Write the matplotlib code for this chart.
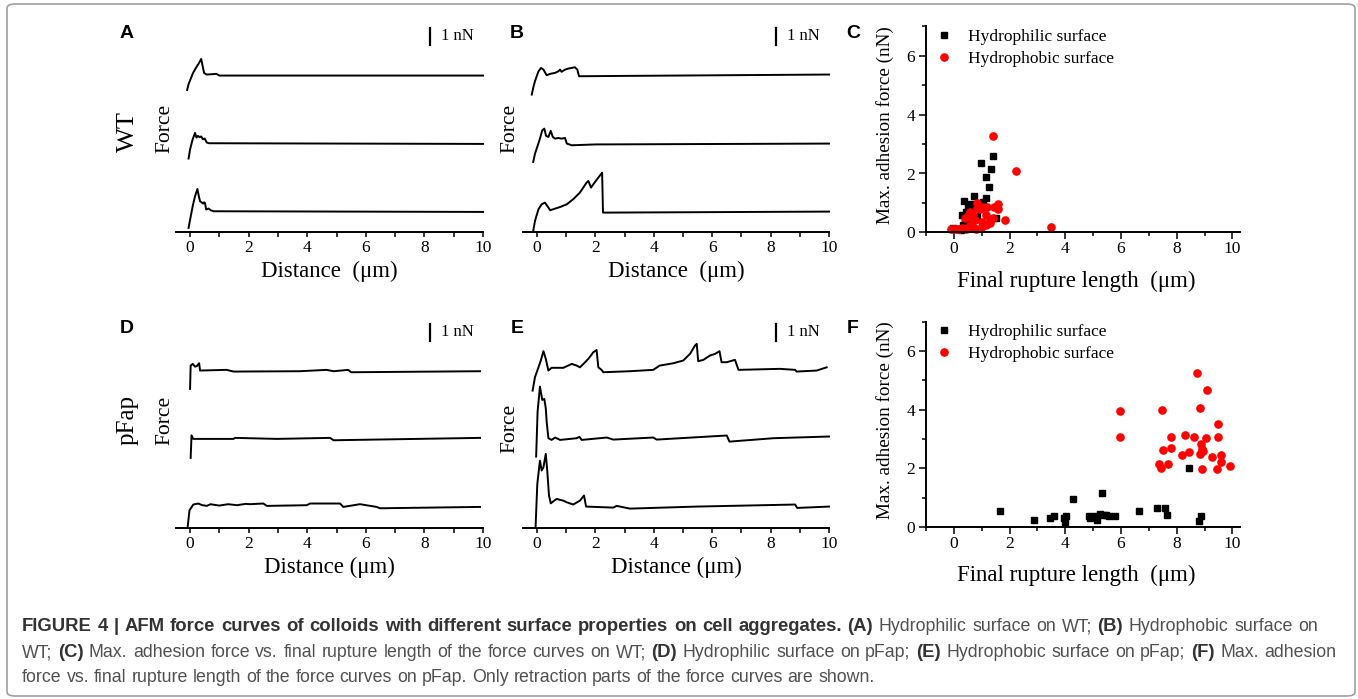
import matplotlib
matplotlib.use('Agg')
import matplotlib.pyplot as plt
from matplotlib.patches import FancyBboxPatch
from matplotlib.ticker import MultipleLocator

plt.rcParams['font.family'] = ['Liberation Serif', 'DejaVu Serif']

W, H = 1358, 699
SANS = ['Liberation Sans', 'DejaVu Sans']

# --- force traces (distance in um, force in nN relative to each trace's baseline)
# panel A, WT hydrophilic
a_top_x = [-0.1, -0.05, 0.02, 0.1, 0.2, 0.3, 0.38, 0.43, 0.48, 0.57, 0.75, 0.9, 1.0, 4.0, 10.0]
a_top_y = [-0.85, -0.5, -0.2, 0.15, 0.45, 0.72, 0.98, 0.55, 0.15, 0.06, 0.08, 0.1, 0.0, 0.0, 0.0]
a_mid_x = [-0.05, 0.0, 0.08, 0.17, 0.22, 0.27, 0.33, 0.38, 0.44, 0.5, 0.57, 0.65, 10.0]
a_mid_y = [-0.88, -0.35, 0.2, 0.63, 0.35, 0.45, 0.38, 0.42, 0.25, 0.3, 0.06, 0.02, -0.02]
a_bot_x = [-0.05, 0.02, 0.1, 0.17, 0.25, 0.3, 0.34, 0.45, 0.48, 0.51, 0.55, 0.63, 0.71, 0.8, 10.0]
a_bot_y = [-0.96, -0.3, 0.4, 0.9, 1.33, 0.9, 0.61, 0.47, 0.55, 0.5, 0.12, 0.18, 0.08, 0.02, -0.02]

# panel B, WT hydrophobic
b_top_x = [-0.18, -0.12, -0.07, 0.05, 0.14, 0.22, 0.33, 0.45, 0.62, 0.73, 0.79, 0.84, 0.96, 1.07,
           1.19, 1.3, 1.38, 1.44, 3.0, 10.0]
b_top_y = [-1.12, -0.65, -0.33, 0.25, 0.45, 0.35, 0.02, 0.1, 0.16, 0.25, 0.35, 0.22, 0.35, 0.41,
           0.45, 0.49, 0.35, -0.04, -0.02, 0.06]
b_mid_x = [-0.13, -0.07, -0.01, 0.1, 0.18, 0.25, 0.31, 0.39, 0.47, 0.54, 0.62, 0.73, 0.84, 0.96,
           1.02, 1.19, 2.0, 10.0]
b_mid_y = [-1.08, -0.6, -0.29, 0.29, 0.78, 0.88, 0.45, 0.39, 0.75, 0.39, 0.29, 0.33, 0.29, 0.33,
           0.0, -0.1, -0.05, 0.0]
b_bot_x = [-0.13, -0.07, 0.05, 0.16, 0.27, 0.39, 0.45, 0.56, 0.79, 1.02, 1.24, 1.47, 1.7, 1.76,
           1.85, 1.93, 2.1, 2.23, 2.26, 10.0]
b_bot_y = [-1.14, -0.55, 0.14, 0.43, 0.53, 0.24, 0.08, 0.14, 0.27, 0.43, 0.73, 1.12, 1.71, 1.8,
           1.41, 1.61, 2.0, 2.29, -0.06, 0.0]

# panel D, pFap hydrophilic
d_top_x = [0.0, 0.02, 0.09, 0.17, 0.23, 0.31, 0.34, 1.25, 1.48, 3.75, 4.66, 4.9, 5.4, 5.5, 9.9]
d_top_y = [-1.02, 0.35, 0.45, 0.29, 0.32, 0.49, 0.06, 0.1, 0.0, 0.02, 0.1, 0.02, 0.1, -0.04, 0.02]
d_mid_x = [0.02, 0.05, 0.11, 1.48, 1.54, 2.96, 4.78, 4.9, 9.9]
d_mid_y = [-1.08, 0.25, 0.04, 0.04, 0.1, 0.04, 0.1, -0.04, 0.1]
d_bot_x = [-0.08, -0.02, 0.11, 0.28, 0.4, 0.57, 0.7, 0.91, 1.0, 1.3, 1.6, 1.9, 2.05, 2.5, 2.62,
           3.98, 4.1, 5.12, 5.23, 5.8, 6.37, 6.48, 9.9]
d_bot_y = [-1.1, -0.16, 0.18, 0.24, 0.15, 0.1, 0.2, 0.14, 0.12, 0.2, 0.14, 0.22, 0.2, 0.24, 0.1,
           0.14, 0.24, 0.24, 0.04, 0.2, 0.04, -0.04, 0.04]

# panel E, pFap hydrophobic
e_top_x = [-0.15, -0.07, 0.05, 0.13, 0.22, 0.3, 0.39, 0.5, 0.9, 1.19, 1.36, 1.47, 1.59, 1.76, 1.93,
           2.04, 2.1, 2.21, 2.27, 3.18, 3.98, 4.2, 4.67, 5.01, 5.24, 5.41, 5.47, 5.52, 5.7, 5.92,
           6.1, 6.25, 6.32, 6.5, 6.78, 6.9, 8.32, 8.84, 8.89, 9.58, 9.92]
e_top_y = [-1.12, -0.33, 0.25, 0.65, 1.2, 0.75, 0.06, 0.22, 0.22, 0.45, 0.35, 0.25, 0.45, 0.75, 1.14,
           1.27, 0.25, 0.1, -0.04, 0.02, 0.1, 0.35, 0.49, 0.65, 1.04, 1.53, 1.63, 0.61, 0.69, 0.94,
           1.04, 1.2, 0.55, 0.55, 0.69, 0.1, 0.16, 0.1, 0.0, 0.06, 0.25]
e_mid_x = [-0.03, 0.02, 0.1, 0.18, 0.25, 0.3, 0.33, 0.39, 0.5, 0.62, 0.79, 1.36, 1.45, 1.53, 2.39,
           2.61, 3.98, 4.1, 6.5, 6.59, 8.09, 10.0]
e_mid_y = [-1.0, 1.65, 3.12, 2.33, 2.39, 1.84, 1.06, 0.08, -0.02, 0.12, -0.02, 0.08, 0.16, -0.02, 0.12,
           0.0, 0.12, 0.0, 0.24, -0.12, 0.08, 0.18]
e_bot_x = [-0.05, 0.01, 0.1, 0.16, 0.22, 0.3, 0.35, 0.41, 0.47, 0.67, 0.9, 1.02, 1.24, 1.47, 1.61,
           1.68, 2.61, 2.73, 3.18, 5.47, 8.84, 8.91, 10.0]
e_bot_y = [-1.16, 1.39, 2.76, 2.18, 2.37, 3.16, 2.18, 0.71, 0.25, 0.51, 0.41, 0.31, 0.18, 0.41, 0.71,
           0.06, 0.0, 0.1, -0.06, 0.06, 0.18, -0.02, 0.06]

trace_offsets = [9.2, 5.2, 1.2]

# --- scatter data: final rupture length (um), max adhesion force (nN)
c_philic_x = [1.39, 0.97, 1.32, 1.16, 1.26, 1.17, 0.71, 0.38, 0.6, 1.05, 0.52, 0.64, 0.3, 0.42, 0.84,
              1.53, 0.39, 0.34, -0.02, 0.15, 0.46, 0.52, 0.55, 0.7, 0.25]
c_philic_y = [2.6, 2.35, 2.15, 1.89, 1.53, 1.18, 1.22, 1.05, 0.96, 1.04, 0.88, 0.82, 0.59, 0.7, 0.55,
              0.48, 0.42, 0.25, 0.14, 0.1, 0.19, 0.31, 0.6, 0.9, 0.08]
c_phobic_x = [1.39, 2.24, 3.47, 0.84, 1.59, 1.44, 1.59, 1.05, 1.2, 0.83, 0.95, 0.58, 1.16, 1.82, 0.39,
              0.64, 1.29, 1.41, 1.0, 0.76, 0.58, 0.72, 0.96, 1.16, -0.1, 0.0, 0.1, 0.2, 0.3, 0.45,
              0.6, 0.8, 1.3, 0.5, 0.68]
c_phobic_y = [3.27, 2.09, 0.17, 1.01, 0.95, 0.87, 0.79, 0.87, 0.85, 0.82, 0.78, 0.7, 0.58, 0.42, 0.5,
              0.48, 0.43, 0.48, 0.36, 0.42, 0.25, 0.13, 0.13, 0.25, 0.1, 0.1, 0.12, 0.1, 0.15, 0.1,
              0.15, 0.12, 0.3, 0.55, 0.6]

f_philic_x = [1.66, 2.88, 3.44, 3.59, 3.95, 3.98, 4.01, 4.26, 4.84, 4.88, 5.06, 5.12, 5.3, 5.24,
              5.38, 5.45, 5.56, 5.8, 6.65, 7.28, 7.58, 7.64, 8.44, 8.86, 8.8]
f_philic_y = [0.57, 0.25, 0.32, 0.37, 0.3, 0.18, 0.37, 0.97, 0.38, 0.33, 0.38, 0.25, 1.16, 0.46,
              0.43, 0.41, 0.37, 0.4, 0.55, 0.67, 0.67, 0.41, 2.0, 0.39, 0.22]
f_phobic_x = [5.96, 5.96, 7.46, 8.83, 9.48, 9.48, 9.04, 8.62, 8.29, 7.78, 7.78, 7.51, 8.86, 8.89,
              8.95, 8.44, 8.19, 8.83, 9.26, 9.58, 9.58, 9.9, 9.45, 8.92, 7.69, 7.42, 7.37, 8.74, 9.07]
f_phobic_y = [3.96, 3.08, 3.99, 4.05, 3.5, 3.06, 3.03, 3.06, 3.13, 3.06, 2.69, 2.63, 2.82, 2.65,
              2.6, 2.55, 2.45, 2.5, 2.38, 2.47, 2.23, 2.08, 1.98, 1.98, 2.14, 2.02, 2.14, 5.25, 4.67]

caption_lines = [
    [('FIGURE 4 | AFM force curves of colloids with different surface properties on cell aggregates. (A)', True),
     ('Hydrophilic surface on WT;', False), ('(B)', True), ('Hydrophobic surface on', False)],
    [('WT;', False), ('(C)', True), ('Max. adhesion force vs. final rupture length of the force curves on WT;', False),
     ('(D)', True), ('Hydrophilic surface on pFap;', False), ('(E)', True),
     ('Hydrophobic surface on pFap;', False), ('(F)', True), ('Max. adhesion', False)],
    [('force vs. final rupture length of the force curves on pFap. Only retraction parts of the force curves are shown.', False)],
]

fig = plt.figure(figsize=(W / 100, H / 100), dpi=100)


def px_axes(left, top, right, bottom):
    return fig.add_axes([left / W, 1 - bottom / H, (right - left) / W, (bottom - top) / H])


def ptext(x, y, s, **kw):
    kw.setdefault('ha', 'center')
    kw.setdefault('va', 'center')
    return fig.text(x / W, 1 - y / H, s, **kw)


def trace_panel(ax, traces, xlabel, label_y):
    for (xs, ys), off in zip(traces, trace_offsets):
        ax.plot(xs, [v + off for v in ys], color='black', lw=1.4, clip_on=False)
    ax.set_xlim(-0.48, 10)
    ax.set_ylim(0, 12.35)
    for s in ['left', 'top', 'right']:
        ax.spines[s].set_visible(False)
    ax.spines['bottom'].set_linewidth(1.4)
    ax.set_yticks([])
    ax.set_xticks(range(0, 11, 2))
    ax.xaxis.set_minor_locator(MultipleLocator(1))
    ax.tick_params(axis='x', which='both', direction='out', length=3.5, width=1.1,
                   labelsize=12.5, pad=2.5)
    ax.set_xlabel(xlabel, fontsize=16.5)
    ax.xaxis.set_label_coords(0.5, label_y)
    ax.xaxis.label.set_va('center')
    # 1 nN scale bar
    ax.plot([8.2, 8.2], [11.0, 12.0], color='black', lw=1.6)
    ax.text(8.55, 11.5, '1 nN', fontsize=12, va='center', ha='left')


def scatter_panel(ax, philic, phobic, label_y):
    ax.plot(philic[0], philic[1], 's', ms=4.4, color='black', ls='none',
            label='Hydrophilic surface', clip_on=False)
    ax.plot(phobic[0], phobic[1], 'o', ms=5.2, color='#ff0000', ls='none',
            label='Hydrophobic surface', clip_on=False)
    ax.set_xlim(-1, 10.27)
    ax.set_ylim(0, 7)
    for s in ['top', 'right']:
        ax.spines[s].set_visible(False)
    for s in ['left', 'bottom']:
        ax.spines[s].set_linewidth(1.4)
    ax.set_xticks(range(0, 11, 2))
    ax.set_yticks([0, 2, 4, 6])
    ax.xaxis.set_minor_locator(MultipleLocator(1))
    ax.yaxis.set_minor_locator(MultipleLocator(1))
    ax.tick_params(which='major', direction='out', length=5, width=1.1, labelsize=12.5)
    ax.tick_params(which='minor', direction='out', length=3, width=1.1)
    ax.tick_params(axis='x', which='major', pad=1)
    ax.tick_params(axis='y', which='major', pad=3)
    ax.set_xlabel('Final rupture length  (\u03bcm)', fontsize=16.5)
    ax.xaxis.set_label_coords(0.477, label_y)
    ax.xaxis.label.set_va('center')
    ax.set_ylabel('Max. adhesion force (nN)', fontsize=13.8)
    ax.yaxis.set_label_coords(-0.131, 0.52)
    ax.yaxis.label.set_va('center')
    ax.legend(loc='upper left', bbox_to_anchor=(0.03, 0.99), frameon=False, borderpad=0,
              borderaxespad=0, handlelength=1.0, handletextpad=0.88, labelspacing=0.35,
              numpoints=1, fontsize=12.5)


ax_a = px_axes(176, 22, 483, 232)
trace_panel(ax_a, [(a_top_x, a_top_y), (a_mid_x, a_mid_y), (a_bot_x, a_bot_y)],
            'Distance  (\u03bcm)', -0.19)
ax_b = px_axes(523, 22, 829, 232)
trace_panel(ax_b, [(b_top_x, b_top_y), (b_mid_x, b_mid_y), (b_bot_x, b_bot_y)],
            'Distance  (\u03bcm)', -0.19)
ax_d = px_axes(176, 318, 483, 528)
trace_panel(ax_d, [(d_top_x, d_top_y), (d_mid_x, d_mid_y), (d_bot_x, d_bot_y)],
            'Distance (\u03bcm)', -0.186)
ax_e = px_axes(523, 318, 829, 528)
trace_panel(ax_e, [(e_top_x, e_top_y), (e_mid_x, e_mid_y), (e_bot_x, e_bot_y)],
            'Distance (\u03bcm)', -0.186)

ax_c = px_axes(926, 26.5, 1240, 232.3)
scatter_panel(ax_c, (c_philic_x, c_philic_y), (c_phobic_x, c_phobic_y), -0.24)
ax_f = px_axes(926, 321.5, 1240, 527.3)
scatter_panel(ax_f, (f_philic_x, f_philic_y), (f_phobic_x, f_phobic_y), -0.232)

# panel letters and side labels
for letter, x, y in [('A', 127, 33), ('B', 517, 33), ('C', 853, 33),
                     ('D', 127, 328), ('E', 517, 328), ('F', 853, 328)]:
    ptext(x, y, letter, family=SANS, fontweight='bold', fontsize=14)
ptext(128, 132, 'WT', fontsize=19, rotation=90)
ptext(128, 420, 'pFap', fontsize=18, rotation=90)
for x, y in [(165, 128), (510, 128), (165, 420), (510, 428)]:
    ptext(x, y, 'Force', fontsize=15.5, rotation=90)

# box round figure and caption
fig.patches.append(FancyBboxPatch((7 / W, 3 / H), 1348 / W, 692 / H,
                                  boxstyle='round,pad=0,rounding_size=0.006',
                                  transform=fig.transFigure, fill=False,
                                  edgecolor='#a0a0a0', lw=1.2))

# caption: words laid out one by one on a common baseline, first two lines justified
renderer = fig.canvas.get_renderer()
bold_size, reg_size = 13.3, 12.8
probe1 = fig.text(0, 0, 'x x', family=SANS, fontsize=reg_size)
probe2 = fig.text(0, 0, 'xx', family=SANS, fontsize=reg_size)
space_w = probe1.get_window_extent(renderer).width - probe2.get_window_extent(renderer).width
probe1.remove()
probe2.remove()

for line, y, right in zip(caption_lines, [631, 657, 682], [1318, 1336, None]):
    words = []
    for text, bold in line:
        for w in text.split(' '):
            t = ptext(0, y, w, family=SANS, ha='left', va='baseline',
                      fontsize=bold_size if bold else reg_size,
                      fontweight='bold' if bold else 'normal',
                      color='#333333' if bold else '#505050')
            words.append((t, t.get_window_extent(renderer).width))
    total = sum(wd for _, wd in words)
    gap = space_w if right is None else (right - 22 - total) / (len(words) - 1)
    x = 22
    for t, wd in words:
        t.set_x(x / W)
        x += wd + gap

fig.savefig('out.png', dpi=100)
